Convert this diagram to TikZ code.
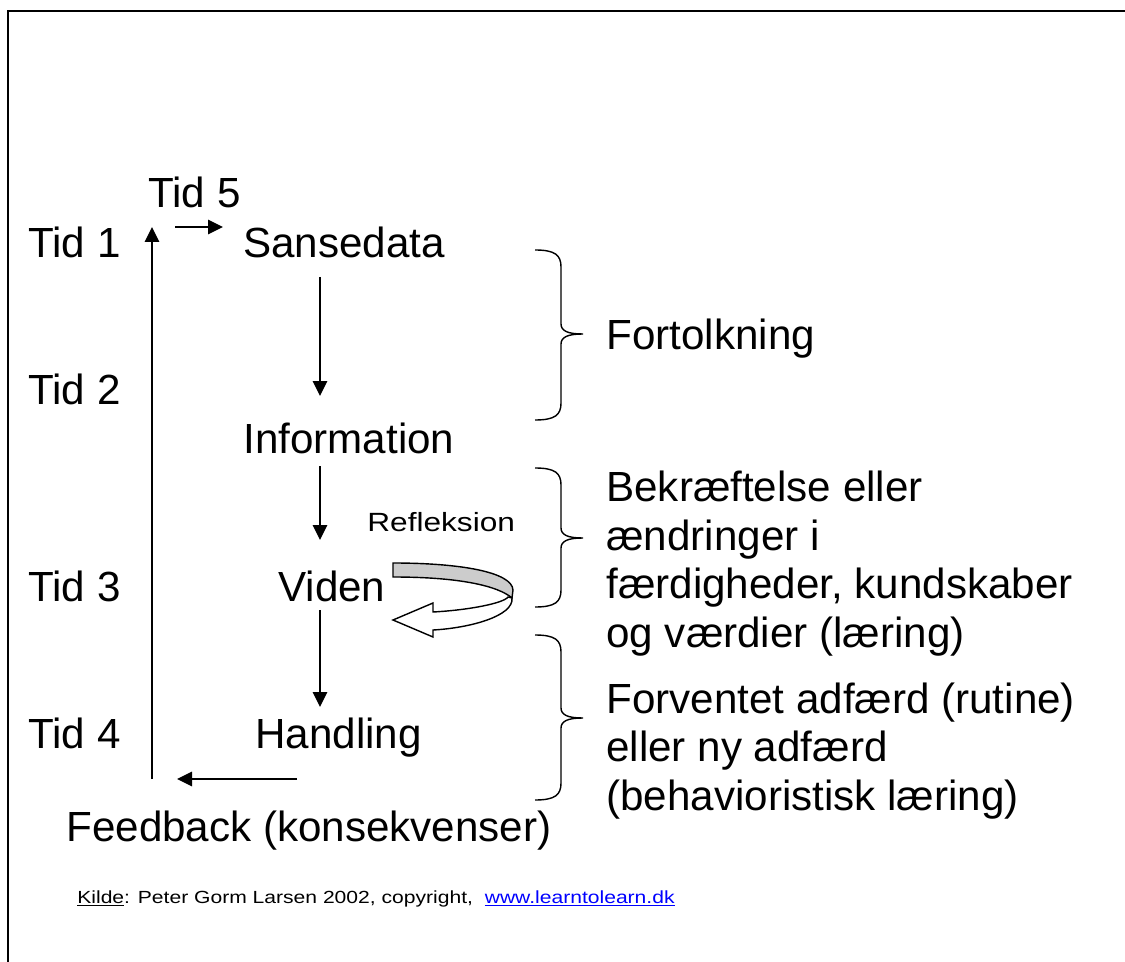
\documentclass[tikz,border=0pt]{standalone}
\usepackage{fontspec}
\setmainfont{Liberation Sans}
\newfontfamily\widefont[FakeStretch=1.2]{Liberation Sans}
\usetikzlibrary{arrows.meta}
\definecolor{linkblue}{RGB}{0,0,255}
% brace pointing right: top, tip, bottom (y in px)
\newcommand\curlybrace[3]{%
  \draw[line width=0.8pt] (535,#1) .. controls (555,#1) and (561,#1+5) .. (561,#1+17)
    -- (561,#2-10) .. controls (561,#2-3) and (568,#2) .. (583,#2)
    .. controls (568,#2) and (561,#2+3) .. (561,#2+10)
    -- (561,#3-17) .. controls (561,#3-5) and (555,#3) .. (535,#3);}
\begin{document}
\begin{tikzpicture}[x=0.02cm,y=-0.02cm,
  big/.style={anchor=base west,inner sep=0pt,font=\fontsize{24}{27.6}\selectfont},
  small/.style={anchor=base west,inner sep=0pt,font=\widefont\fontsize{15}{18}\selectfont},
  arr/.style={line width=0.8pt,-{Triangle[length=0.3cm,width=0.29cm]}}]
\useasboundingbox (0,0) rectangle (1125,962);
% Frame
\draw[line width=1.1pt] (8,962) -- (8,11) -- (1125,11);
% Time labels
\node[big] (tid5) at (148,208) {Tid 5};
\node[big] (tid1) at (28,258) {Tid 1};
\node[big] (tid2) at (28,405) {Tid 2};
\node[big] (tid3) at (28,601) {Tid 3};
\node[big] (tid4) at (28,748) {Tid 4};
% Steps
\node[big] (sansedata) at (243,258) {Sansedata};
\node[big] (information) at (243,454) {Information};
\node[big] (viden) at (278,601) {Viden};
\node[big] (handling) at (255,748) {Handling};
\node[big] (feedback) at (66,841) {Feedback (konsekvenser)};
\node[small] (refleksion) at (367,531) {Refleksion};
% Right column (base of multi-line node = bottom of last line)
\node[big] (fortolkning) at (606,350) {Fortolkning};
\node[big,align=left] (laering) at (606,647) {Bekræftelse eller\\ændringer i\\færdigheder, kundskaber\\og værdier (læring)};
\node[big,align=left] (adfaerd) at (606,810) {Forventet adfærd (rutine)\\eller ny adfærd\\(behavioristisk læring)};
% Source
\node[small,font=\widefont\fontsize{10}{12}\selectfont] (kilde) at (77,903) {\underline{Kilde}: Peter Gorm Larsen 2002, copyright,\ \ \textcolor{linkblue}{\underline{www.learntolearn.dk}}};
% Arrow ends
\coordinate (up-s) at (152,779);
\coordinate (up-e) at (152,227);
\coordinate (t5-s) at (175,227);
\coordinate (t5-e) at (223,227);
\coordinate (sd-s) at (320,277);
\coordinate (sd-e) at (320,396);
\coordinate (in-s) at (320,466);
\coordinate (in-e) at (320,540);
\coordinate (vi-s) at (320,610);
\coordinate (vi-e) at (320,707);
\coordinate (fb-s) at (297,779);
\coordinate (fb-e) at (177,779);
\draw[arr] (up-s) -- (up-e);
\draw[arr] (t5-s) -- (t5-e);
\draw[arr] (sd-s) -- (sd-e);
\draw[arr] (in-s) -- (in-e);
\draw[arr] (vi-s) -- (vi-e);
\draw[arr] (fb-s) -- (fb-e);
% Braces
\curlybrace{250}{334}{420}
\curlybrace{468}{538}{607}
\curlybrace{635}{718}{800}
% Reflection loop
\filldraw[fill=gray!40,line width=0.8pt] (393,563) .. controls (460,563) and (512,572) .. (513,590) -- (512,598) .. controls (498,586) and (460,577) .. (393,577) -- cycle;
\filldraw[fill=white,line width=0.8pt] (512,598) .. controls (514,616) and (470,628) .. (433,630) -- (433,637) -- (393,620) -- (433,603) -- (433,612) .. controls (470,610) and (504,603) .. (508,597) -- cycle;
\end{tikzpicture}
\end{document}
